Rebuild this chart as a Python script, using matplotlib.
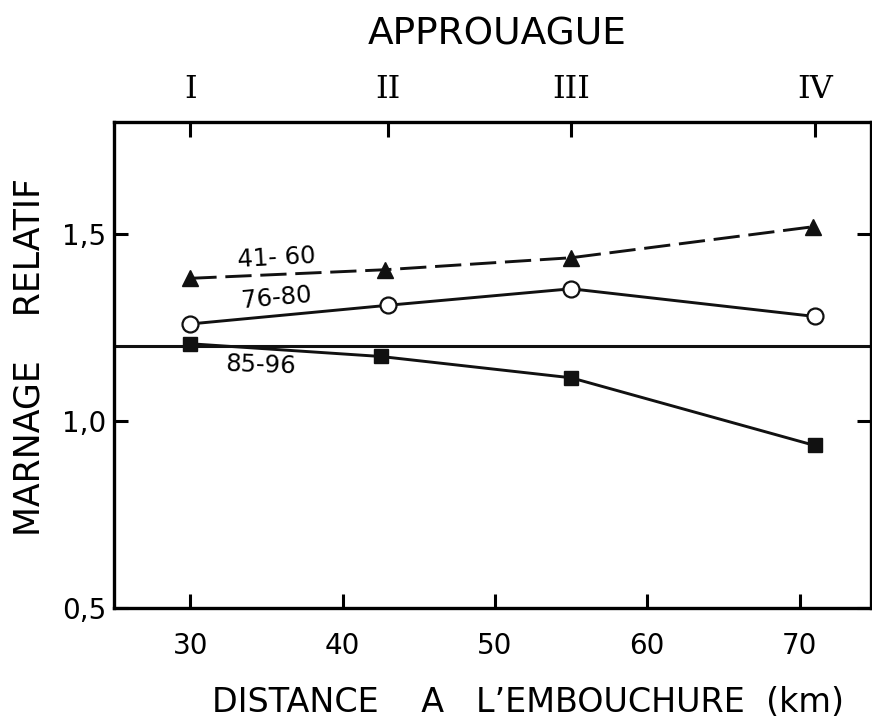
import matplotlib
matplotlib.use("Agg")
import matplotlib.pyplot as plt

# distance (km) of the stations and relative tidal range for each period
STATIONS = ["I", "II", "III", "IV"]
STATION_KM = [30, 43, 55, 71]

KM_41_60 = [30, 42.8, 55, 70.9]
MARN_41_60 = [1.382, 1.405, 1.437, 1.52]

KM_76_80 = [30, 43, 55, 71]
MARN_76_80 = [1.26, 1.31, 1.354, 1.28]

KM_85_96 = [30, 42.5, 55, 71]
MARN_85_96 = [1.207, 1.173, 1.116, 0.935]

REF_LEVEL = 1.2

XTICKS = [30, 40, 50, 60, 70]
YTICKS = [0.5, 1.0, 1.5]
YTICK_LABELS = ["0,5", "1,0", "1,5"]

FONT = "DejaVu Sans"
LW = 2.1

fig = plt.figure(figsize=(8.72, 7.24), dpi=100)
ax = fig.add_axes([0.131, 0.160, 0.868, 0.6715])

ax.axhline(REF_LEVEL, color="#111111", lw=2.2, zorder=2)

ax.plot(KM_41_60, MARN_41_60, color="#111111", lw=LW, ls=(0, (9, 3)),
        marker="^", ms=12, mfc="#111111", mec="#111111", zorder=3)
ax.plot(KM_76_80, MARN_76_80, color="#111111", lw=LW,
        marker="o", ms=11.5, mfc="white", mec="#111111", mew=1.6, zorder=3)
ax.plot(KM_85_96, MARN_85_96, color="#111111", lw=LW,
        marker="s", ms=9.5, mfc="#111111", mec="#111111", zorder=3)

ax.text(35.65, 1.4375, "41- 60", fontsize=17.5, family=FONT, rotation=3,
        ha="center", va="center")
ax.text(35.65, 1.3285, "76-80", fontsize=17.5, family=FONT, rotation=5,
        ha="center", va="center")
ax.text(34.6, 1.150, "85-96", fontsize=17.5, family=FONT, rotation=-2,
        ha="center", va="center")

ax.set_xlim(25.0, 74.7)
ax.set_ylim(0.5, 1.8)
ax.set_xticks(XTICKS)
ax.set_xticklabels([str(v) for v in XTICKS], fontsize=20, family=FONT)
ax.set_yticks(YTICKS)
ax.set_yticklabels(YTICK_LABELS, fontsize=20, family=FONT)
ax.tick_params(axis="x", direction="in", length=10, width=2.2, pad=17)
ax.tick_params(axis="y", direction="in", length=10, width=2.2, pad=6,
               right=True)
for s in ax.spines.values():
    s.set_linewidth(2.4)

top = ax.twiny()
top.set_xlim(ax.get_xlim())
top.set_xticks(STATION_KM)
top.set_xticklabels(STATIONS, fontsize=23, family="DejaVu Serif")
top.tick_params(axis="x", direction="in", length=11, width=2.2, pad=12)

fig.text(0.570, 0.952, "APPROUAGUE", fontsize=27, family=FONT,
         ha="center", va="center")
fig.text(0.605, 0.030, "DISTANCE    A   L\u2019EMBOUCHURE  (km)", fontsize=24,
         family=FONT, ha="center", va="center")
fig.text(0.034, 0.507, "MARNAGE    RELATIF", fontsize=25, family=FONT,
         rotation=90, ha="center", va="center")

fig.savefig("out.png", dpi=100)
